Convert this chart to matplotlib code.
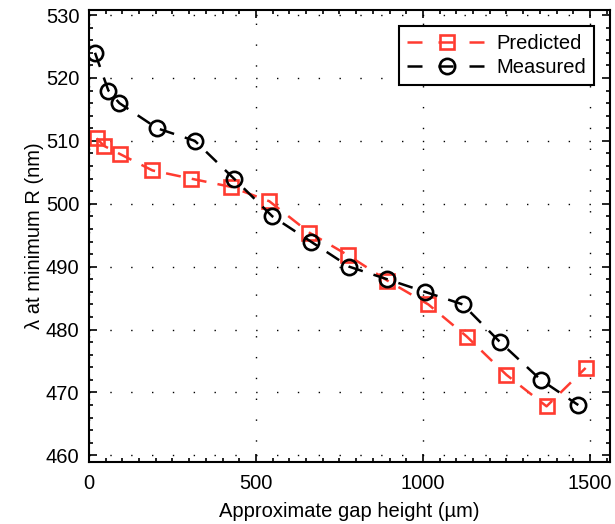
import matplotlib
matplotlib.use("Agg")
from matplotlib import pyplot as plt
from matplotlib.ticker import MultipleLocator

plt.rcParams['font.family'] = ['Liberation Sans', 'DejaVu Sans']

# measured points (black circles)
x_meas = [18, 58, 91, 204, 317, 434, 549, 664, 779, 893, 1006, 1119, 1231, 1353, 1465]
y_meas = [524, 518, 516, 512, 510, 504, 498, 494, 490, 488, 486, 484, 478, 472, 468]

# predicted points (red squares)
x_pred = [23, 45, 93, 190, 305, 424, 540, 660, 776, 893, 1016, 1131, 1250, 1370, 1487]
y_pred = [510.4, 509.2, 507.9, 505.3, 504.0, 502.7, 500.4, 495.4, 491.8, 487.8, 484.0, 478.9, 472.8, 467.8, 473.9]

rouge = '#ff3b30'
tiret = (0, (6, 4.5))

fig = plt.figure(figsize=(6.15, 5.24), dpi=100)
ax = fig.add_axes([0.1447, 0.1189, 0.8472, 0.862])

ax.plot(x_pred, y_pred, color=rouge, ls=tiret, lw=1.8, marker='s', ms=10,
        mfc='none', mec=rouge, mew=1.9, label='Predicted')
ax.plot(x_meas, y_meas, color='black', ls=tiret, lw=1.8, marker='o', ms=11,
        mfc='none', mec='black', mew=1.9, label='Measured')

ax.set_xlim(0, 1560)
ax.set_ylim(459, 530.8)
ax.set_xticks([0, 500, 1000, 1500])
ax.set_yticks(range(460, 531, 10))
ax.xaxis.set_minor_locator(MultipleLocator(50))
ax.yaxis.set_minor_locator(MultipleLocator(2))
ax.tick_params(which='both', direction='in', top=True, right=True, labelsize=14.5, width=1.2)
ax.tick_params(which='major', length=6)
ax.tick_params(axis='x', which='major', pad=9)
ax.tick_params(axis='y', which='major', pad=7)
ax.tick_params(which='minor', length=3)
ax.grid(True, which='major', color='black', ls=(0, (1, 14)), lw=1.0)
for s in ax.spines.values():
    s.set_linewidth(1.5)

ax.set_xlabel('Approximate gap height (µm)', fontsize=14.5, labelpad=6)
ax.set_ylabel('λ at minimum R (nm)', fontsize=14.5, labelpad=1)

leg = ax.legend(loc='upper right', fontsize=14.5, handlelength=3.9, fancybox=False,
                framealpha=1, edgecolor='black', borderaxespad=0.8, labelspacing=0.25,
                handletextpad=0.5)
leg.get_frame().set_linewidth(1.5)
# tiret - marqueur - tiret dans la légende
for ligne in leg.get_lines():
    ligne.set_dashes((6, 6.4))

plt.savefig('out.png', dpi=100)
